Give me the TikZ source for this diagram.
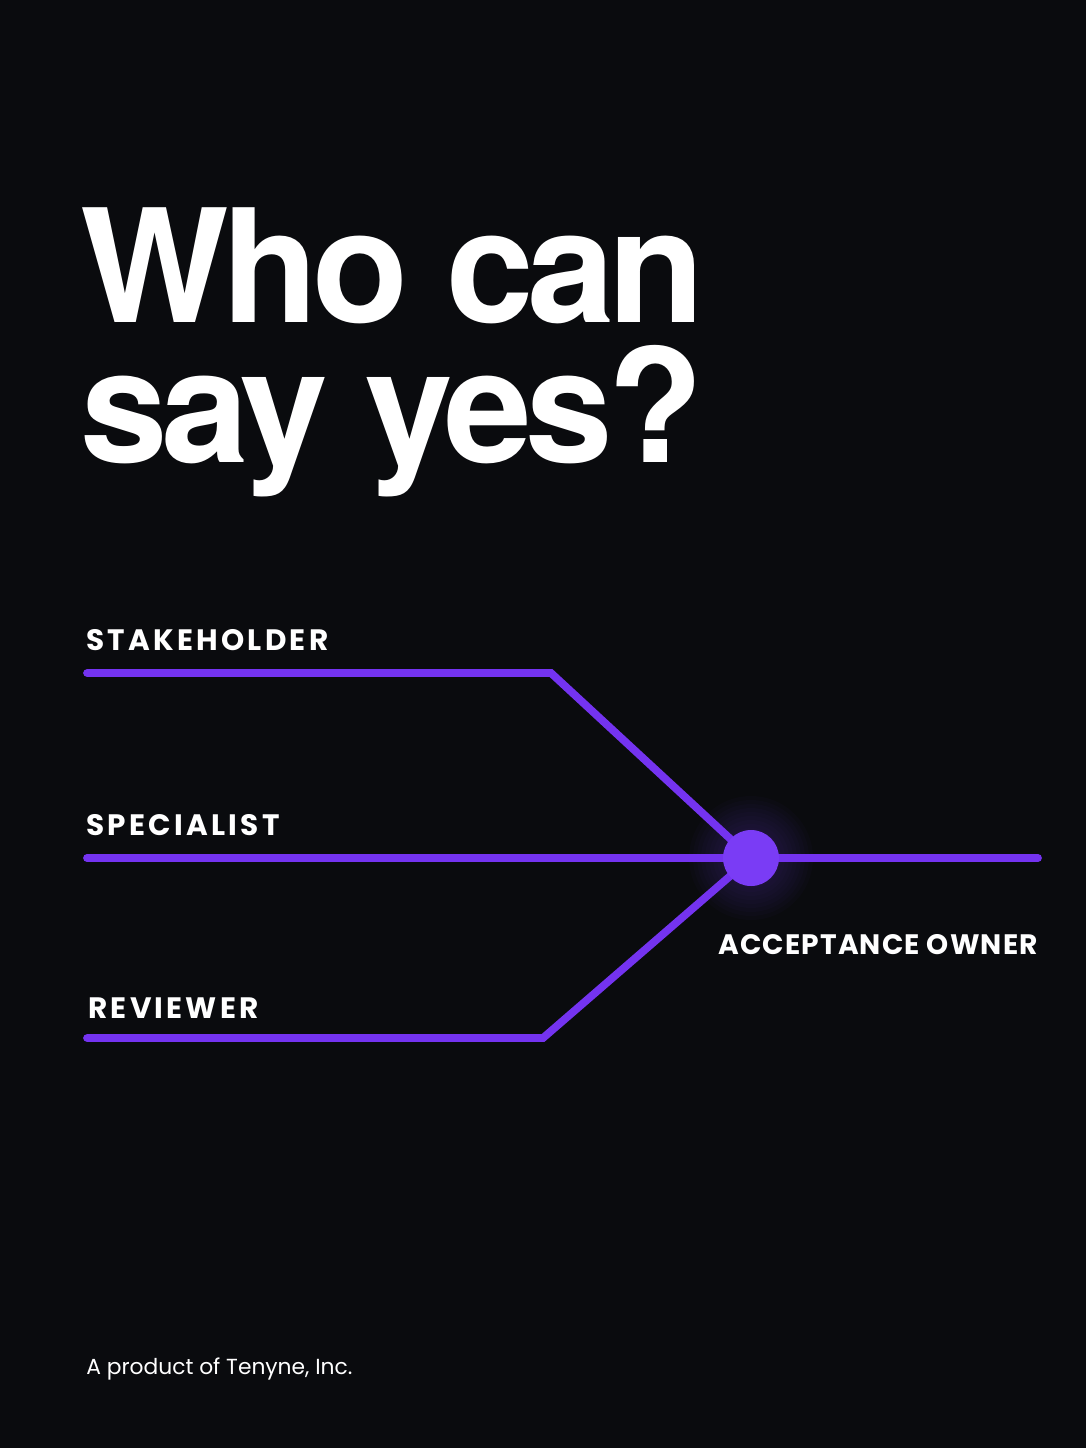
\documentclass[tikz,border=0pt]{standalone}
\usepackage{fontspec}
\setmainfont{Poppins}
\newfontfamily\titlefont{TeX Gyre Heros}
\usetikzlibrary{positioning}
\definecolor{bgdark}{HTML}{0A0B0E}
\definecolor{lineviolet}{HTML}{7433F0}
\definecolor{dotviolet}{HTML}{7A3CF5}
\tikzset{
  px/.style={x=0.025cm, y=-0.025cm},
  role/.style={anchor=base west, inner sep=0pt, text=white, font=\fontsize{21pt}{21pt}\selectfont\bfseries\addfontfeature{LetterSpace=11}},
  ownerlabel/.style={anchor=base west, inner sep=0pt, text=white, font=\fontsize{20pt}{20pt}\selectfont\bfseries\addfontfeature{LetterSpace=4}},
  headline/.style={anchor=base west, inner sep=0pt, text=white, font=\titlefont\fontsize{112pt}{100pt}\selectfont\bfseries\addfontfeature{LetterSpace=-4}},
  route/.style={draw=lineviolet, line width=5.5pt, line cap=round, line join=miter}
}
\begin{document}
\begin{tikzpicture}[px]
    \fill[bgdark] (0,0) rectangle (1086,1448);
    \useasboundingbox (0,0) rectangle (1086,1448);

    % title
    \node[headline] (title1) at (80,322) {Who can};
    \node[headline] (title2) at (80,462) {say yes?};

    % roles
    \node[role] (stakeholder) at (86,650) {STAKEHOLDER};
    \node[role] (specialist) at (86,835) {SPECIALIST};
    \node[role] (reviewer) at (88,1018) {REVIEWER};
    \node[ownerlabel] (owner) at (718,954) {ACCEPTANCE OWNER};

    \coordinate (s0) at (87,673);
    \coordinate (s1) at (551,673);
    \coordinate (p0) at (87,858);
    \coordinate (p1) at (1038,858);
    \coordinate (r0) at (87,1038);
    \coordinate (r1) at (543,1038);
    \coordinate (hub) at (751,858);

    % glow + hub
    \foreach \r in {62,58,...,30}
      \fill[dotviolet, opacity=0.025] (hub) circle (\r);

    \draw[route] (s0) -- (s1) -- (hub);
    \draw[route] (r0) -- (r1) -- (hub);
    \draw[route] (p0) -- (p1);
    \fill[dotviolet] (hub) circle (28);

    % footer
    \node[anchor=base west, inner sep=0pt, text=white, font=\fontsize{15.5pt}{15.5pt}\selectfont]
      (footer) at (86,1374) {A product of Tenyne, Inc.};
\end{tikzpicture}
\end{document}
